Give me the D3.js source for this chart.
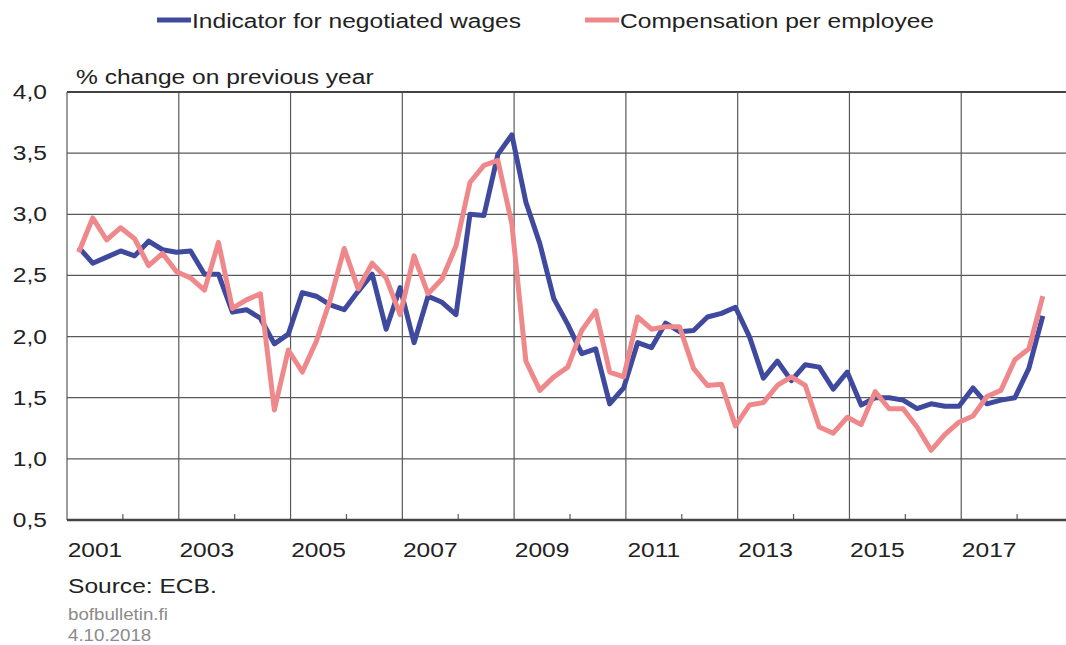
<!DOCTYPE html>
<html>
<head>
<meta charset="utf-8">
<script src="https://cdn.jsdelivr.net/npm/d3@7"></script>
<style>
  body { margin: 0; background: #fff; }
  svg { display: block; font-family: "Liberation Sans", Arial, sans-serif; }
</style>
</head>
<body>
<svg id="chart" width="1066" height="645"></svg>
<script>
// quarterly data, 2001Q1 .. 2018Q2
var startYear = 2001;
var quarters = d3.range(70).map(function (i) {
    return (startYear + Math.floor(i / 4)) + "Q" + (i % 4 + 1);
});

var negotiatedWages = [
    2.73, 2.60, 2.65, 2.70, 2.66, 2.78, 2.71, 2.69, 2.70, 2.51,
    2.51, 2.20, 2.22, 2.15, 1.94, 2.02, 2.36, 2.33, 2.26, 2.22,
    2.37, 2.51, 2.06, 2.40, 1.95, 2.33, 2.28, 2.18, 3.00, 2.99,
    3.49, 3.65, 3.10, 2.76, 2.31, 2.10, 1.86, 1.90, 1.45, 1.58,
    1.95, 1.91, 2.11, 2.04, 2.05, 2.16, 2.19, 2.24, 2.00, 1.66,
    1.80, 1.64, 1.77, 1.75, 1.57, 1.71, 1.44, 1.50, 1.50, 1.48,
    1.41, 1.45, 1.43, 1.43, 1.58, 1.45, 1.48, 1.50, 1.74, 2.17
];

var compensation = [
    2.69, 2.97, 2.79, 2.89, 2.80, 2.58, 2.68, 2.53, 2.48, 2.38,
    2.77, 2.23, 2.30, 2.35, 1.40, 1.89, 1.71, 1.96, 2.30, 2.72,
    2.39, 2.60, 2.48, 2.18, 2.66, 2.35, 2.47, 2.74, 3.26, 3.40,
    3.44, 2.92, 1.80, 1.56, 1.67, 1.75, 2.05, 2.21, 1.71, 1.67,
    2.16, 2.06, 2.08, 2.08, 1.74, 1.60, 1.61, 1.27, 1.44, 1.46,
    1.60, 1.67, 1.60, 1.26, 1.21, 1.34, 1.28, 1.55, 1.41, 1.41,
    1.26, 1.07, 1.20, 1.30, 1.35, 1.51, 1.56, 1.81, 1.90, 2.33
];

var yTicks = [0.5, 1.0, 1.5, 2.0, 2.5, 3.0, 3.5, 4.0];
var yearGrid = [2001, 2003, 2005, 2007, 2009, 2011, 2013, 2015, 2017, 2019];
var yearMinor = [2002, 2004, 2006, 2008, 2010, 2012, 2014, 2016, 2018];
var yearLabels = [2001, 2003, 2005, 2007, 2009, 2011, 2013, 2015, 2017];

var seriesList = [
    { name: "Indicator for negotiated wages", values: negotiatedWages, color: "#3f4a9f" },
    { name: "Compensation per employee", values: compensation, color: "#ef888b" }
];

var svg = d3.select("#chart");
var plotLeft = 67, plotRight = 1073, plotTop = 92, plotBottom = 520;
var stretch = 1.17;   // the lettering of the original is a bit wide

var x = d3.scaleLinear().domain([2001, 2019]).range([plotLeft, plotRight]);
var y = d3.scaleLinear().domain([0.5, 4.0]).range([plotBottom, plotTop]);
var fmt = function (d) { return d3.format(".1f")(d).replace(".", ","); };

// position of a quarter on the year axis
function quarterPos(i) {
    return startYear + Math.floor(i / 4) + (i % 4) / 4 + 0.21;
}

function addText(parent, tx, ty, str, size, fill, anchor) {
    return parent.append("text")
        .attr("transform", "translate(" + tx + "," + ty + ") scale(" + stretch + ",1)")
        .attr("font-size", size)
        .attr("fill", fill || "#222")
        .attr("text-anchor", anchor || "start")
        .text(str);
}

// grid
svg.append("g").selectAll("line")
    .data(yTicks.slice(1, -1))
    .enter().append("line")
    .attr("x1", plotLeft).attr("x2", plotRight)
    .attr("y1", function (d) { return y(d); })
    .attr("y2", function (d) { return y(d); })
    .attr("stroke", "#5a5a5a").attr("stroke-width", 1.2);

svg.append("g").selectAll("line")
    .data(yearGrid)
    .enter().append("line")
    .attr("x1", function (d) { return x(d); })
    .attr("x2", function (d) { return x(d); })
    .attr("y1", plotTop).attr("y2", plotBottom)
    .attr("stroke", "#5a5a5a").attr("stroke-width", 1.2);

// minor ticks on the bottom axis
svg.append("g").selectAll("line")
    .data(yearMinor)
    .enter().append("line")
    .attr("x1", function (d) { return x(d); })
    .attr("x2", function (d) { return x(d); })
    .attr("y1", plotBottom - 6).attr("y2", plotBottom)
    .attr("stroke", "#5a5a5a").attr("stroke-width", 1.2);

// frame
svg.append("line").attr("x1", plotLeft).attr("x2", plotRight)
    .attr("y1", y(4.0)).attr("y2", y(4.0))
    .attr("stroke", "#444").attr("stroke-width", 2);
svg.append("line").attr("x1", plotLeft).attr("x2", plotRight)
    .attr("y1", y(0.5)).attr("y2", y(0.5))
    .attr("stroke", "#444").attr("stroke-width", 2.5);

// lines
var line = d3.line()
    .x(function (d, i) { return x(quarterPos(i)); })
    .y(function (d) { return y(d); });

seriesList.forEach(function (s) {
    svg.append("path")
        .datum(s.values)
        .attr("d", line)
        .attr("fill", "none")
        .attr("stroke", s.color)
        .attr("stroke-width", 5)
        .attr("stroke-linejoin", "round");
});

// y labels
var yLab = svg.append("g");
yTicks.forEach(function (d) {
    addText(yLab, 47, y(d) + 7, fmt(d), 21, "#222", "end");
});

// x labels, centred on the first year of each two-year column
var xLab = svg.append("g");
yearLabels.forEach(function (d) {
    addText(xLab, x(d + 0.5), 557, d, 21, "#222", "middle");
});

addText(svg, 76, 84, "% change on previous year", 21);

// legend
var legendX = [157, 585];
seriesList.forEach(function (s, i) {
    var g = svg.append("g").attr("transform", "translate(" + legendX[i] + ",0)");
    g.append("line").attr("x1", 0).attr("x2", 34)
        .attr("y1", 20).attr("y2", 20)
        .attr("stroke", s.color).attr("stroke-width", 5);
    addText(g, 35, 28, s.name, 21);
});

// source notes
addText(svg, 68, 593, "Source: ECB.", 21);
addText(svg, 68, 620, "bofbulletin.fi", 16, "#8a8a8a");
addText(svg, 68, 641, "4.10.2018", 16, "#8a8a8a");
</script>
</body>
</html>
